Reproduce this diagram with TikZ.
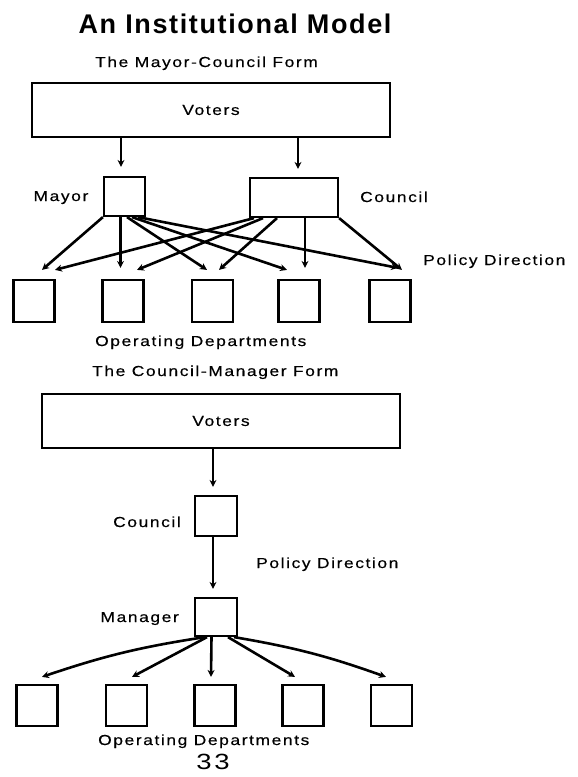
\documentclass[tikz,border=0pt]{standalone}
\usepackage{fontspec}
\setmainfont{Liberation Sans}
\newfontfamily\lblfont[FakeStretch=1.2,LetterSpace=11,FakeBold=0.4]{Liberation Sans}
\newfontfamily\ttlfont[LetterSpace=6]{Liberation Sans}
\newfontfamily\pgfont[FakeStretch=1.25,LetterSpace=12]{Liberation Sans}
\usetikzlibrary{arrows.meta}

\begin{document}
\begin{tikzpicture}[x=1pt,y=-1pt,
  box/.style={draw, line width=2.2pt, inner sep=0pt},
  unit/.style={box, minimum width=41pt, minimum height=42pt},
  lbl/.style={font=\lblfont\fontsize{14.5}{17}\selectfont, inner sep=0pt},
  arr/.style={line width=2.6pt, -{Stealth[length=7pt,width=7pt]}},
]
\useasboundingbox (0,0) rectangle (578,777);

% headings
\node[font=\ttlfont\bfseries\fontsize{27}{30}\selectfont, inner sep=0pt, anchor=base]
  (title) at (235,33) {An Institutional Model};
\node[lbl, anchor=base] (mcform) at (206.5,67) {The Mayor-Council Form};

% ---------- mayor-council form ----------
\node[box, lbl, minimum width=358pt, minimum height=54pt] (voters1) at (211,110) {Voters};
\node[box, minimum width=41pt, minimum height=39pt] (mayor) at (124.5,196.5) {};
\node[box, minimum width=88pt, minimum height=39pt] (council1) at (294,197.5) {};
\node[lbl, anchor=base east] (mayorlbl) at (88.5,201) {Mayor};
\node[lbl, anchor=base west] (council1lbl) at (360,202) {Council};
\node[lbl, anchor=base west] (policy1) at (423,265) {Policy Direction};

\node[unit] (a1) at (34,301) {};
\node[unit] (a2) at (123,301) {};
\node[unit] (a3) at (212.5,301) {};
\node[unit] (a4) at (299,301) {};
\node[unit] (a5) at (390,301) {};
\node[lbl, anchor=base west] (ops1) at (95,346) {Operating Departments};

\draw[arr] ([xshift=-3.5pt]mayor.north |- voters1.south) -- ([xshift=-3.5pt,yshift=9pt]mayor.north);
\draw[arr] ([xshift=4pt]council1.north |- voters1.south) -- ([xshift=4pt,yshift=8pt]council1.north);

% mayor to departments
\draw[arr] (mayor.south west) -- ([xshift=8pt,yshift=9pt]a1.north);
\draw[arr] ([xshift=-4pt]mayor.south) -- ([xshift=-2.5pt,yshift=11pt]a2.north);
\draw[arr] ([xshift=2.5pt]mayor.south) -- ([xshift=-5.5pt,yshift=9pt]a3.north);
\draw[arr] ([xshift=7.5pt]mayor.south) -- ([xshift=-12pt,yshift=9pt]a4.north);
\draw[arr] ([xshift=13.5pt]mayor.south) -- ([xshift=8pt,yshift=11pt]a5.north);

% council to departments
\draw[arr] ([xshift=-40pt]council1.south) -- ([xshift=21pt,yshift=9pt]a1.north);
\draw[arr] ([xshift=-31pt]council1.south) -- ([xshift=14pt,yshift=9pt]a2.north);
\draw[arr] ([xshift=-17pt]council1.south) -- ([xshift=6.5pt,yshift=9pt]a3.north);
\draw[arr] ([xshift=11pt]council1.south) -- ([xshift=6pt,yshift=11pt]a4.north);
\draw[arr] (council1.south east) -- ([xshift=12pt,yshift=9pt]a5.north);

% ---------- council-manager form ----------
\node[lbl, anchor=base west] (cmform) at (92,376) {The Council-Manager Form};
\node[box, lbl, minimum width=358pt, minimum height=54pt] (voters2) at (221,421) {Voters};
\node[box, minimum width=42pt, minimum height=40pt] (council2) at (216,516) {};
\node[box, minimum width=42pt, minimum height=38pt] (manager) at (216,617) {};
\node[lbl, anchor=base east] (council2lbl) at (181,527) {Council};
\node[lbl, anchor=base west] (policy2) at (256,568) {Policy Direction};
\node[lbl, anchor=base east] (managerlbl) at (179,622) {Manager};

\node[unit, minimum height=41pt] (b1) at (37,705.5) {};
\node[unit, minimum height=41pt] (b2) at (126.5,705.5) {};
\node[unit, minimum height=41pt] (b3) at (215,705.5) {};
\node[unit, minimum height=41pt] (b4) at (303,705.5) {};
\node[unit, minimum height=41pt] (b5) at (391.5,705.5) {};
\node[lbl, anchor=base west] (ops2) at (98,745) {Operating Departments};
\node[font=\pgfont\fontsize{22}{24}\selectfont, inner sep=0pt, anchor=base] (pageno) at (213,769) {33};

\draw[arr] ([xshift=-3pt]council2.north |- voters2.south) -- ([xshift=-3pt,yshift=8pt]council2.north);
\draw[arr] ([xshift=-3pt]council2.south) -- ([xshift=-3pt,yshift=8pt]manager.north);

\draw[arr] ([xshift=-11pt]manager.south) to[bend right=5] ([xshift=5pt,yshift=7pt]b1.north);
\draw[arr] ([xshift=-9pt]manager.south) -- ([xshift=5.5pt,yshift=7pt]b2.north);
\draw[arr] ([xshift=-4.5pt]manager.south) -- ([xshift=-4pt,yshift=7pt]b3.north);
\draw[arr] ([xshift=12pt]manager.south) -- ([xshift=-8pt,yshift=7pt]b4.north);
\draw[arr] ([xshift=18pt]manager.south) to[bend left=5] ([xshift=-5.5pt,yshift=7pt]b5.north);
\end{tikzpicture}
\end{document}
